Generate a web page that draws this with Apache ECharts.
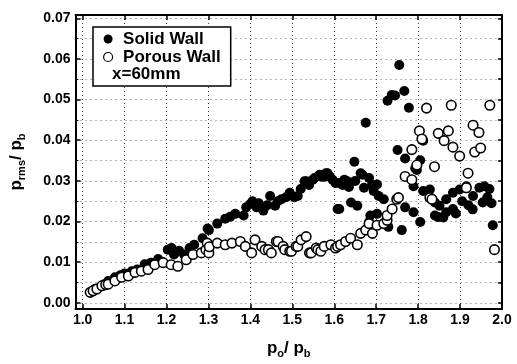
<!DOCTYPE html>
<html><head><meta charset="utf-8">
<script src="https://cdn.jsdelivr.net/npm/echarts@6/dist/echarts.min.js"></script>
<style>html,body{margin:0;padding:0;background:#fff}#c{width:517px;height:364px}</style>
</head><body><div id="c"></div>
<script>
// x = p0/pb, y = prms/pb
const solidX = [1.03,1.05,1.061,1.077,1.09,1.10,1.117,1.13,1.148,1.163,1.18,1.203,1.212,1.218,1.23,1.242,1.255,1.266,1.286,1.298,1.301,1.321,1.34,1.352,1.364,1.384,1.39,1.40,1.405,1.415,1.42,1.431,1.44,1.447,1.459,1.465,1.474,1.485,1.494,1.505,1.513,1.52,1.529,1.533,1.54,1.549,1.553,1.565,1.568,1.575,1.58,1.584,1.59,1.596,1.603,1.608,1.612,1.612,1.62,1.624,1.631,1.635,1.64,1.648,1.65,1.655,1.663,1.667,1.671,1.675,1.683,1.683,1.686,1.69,1.694,1.702,1.702,1.706,1.718,1.727,1.729,1.737,1.745,1.751,1.755,1.761,1.767,1.769,1.769,1.778,1.789,1.789,1.793,1.797,1.805,1.805,1.812,1.812,1.828,1.84,1.84,1.848,1.851,1.86,1.867,1.867,1.883,1.883,1.89,1.899,1.905,1.915,1.92,1.93,1.931,1.946,1.954,1.958,1.965,1.97,1.975,1.978];
const solidY = [0.0035,0.0045,0.0054,0.0063,0.0068,0.0072,0.0078,0.0082,0.0095,0.0099,0.0108,0.0131,0.0135,0.0119,0.0128,0.0119,0.0135,0.0143,0.0159,0.0183,0.0179,0.0195,0.0207,0.0212,0.0219,0.0215,0.0235,0.0243,0.0250,0.0235,0.0245,0.0227,0.0240,0.0263,0.0239,0.0250,0.0255,0.0260,0.0271,0.0260,0.0263,0.0280,0.0299,0.0299,0.0290,0.0303,0.0307,0.0315,0.0311,0.0310,0.0319,0.0319,0.0310,0.0303,0.0295,0.0231,0.0231,0.0295,0.0290,0.0303,0.0299,0.0285,0.0247,0.0347,0.0300,0.0239,0.0319,0.0315,0.0283,0.0443,0.0307,0.0199,0.0215,0.0290,0.0275,0.0219,0.0291,0.0263,0.0255,0.0497,0.0187,0.0511,0.0510,0.0376,0.0585,0.0179,0.0521,0.0355,0.0235,0.0480,0.0287,0.0223,0.0331,0.0327,0.0351,0.0199,0.0399,0.0275,0.0279,0.0247,0.0215,0.0211,0.0239,0.0210,0.0255,0.0223,0.0271,0.0231,0.0220,0.0279,0.0250,0.0287,0.0240,0.0230,0.0263,0.0283,0.0247,0.0287,0.0260,0.0280,0.0245,0.0191];
const porousX = [1.018,1.025,1.034,1.046,1.055,1.061,1.077,1.093,1.109,1.125,1.14,1.156,1.172,1.192,1.211,1.227,1.247,1.263,1.283,1.294,1.297,1.301,1.302,1.321,1.34,1.356,1.376,1.388,1.403,1.411,1.427,1.435,1.443,1.45,1.462,1.466,1.478,1.482,1.494,1.498,1.509,1.513,1.521,1.533,1.541,1.545,1.557,1.561,1.568,1.576,1.592,1.603,1.608,1.615,1.627,1.639,1.655,1.663,1.675,1.683,1.691,1.702,1.718,1.726,1.726,1.738,1.749,1.753,1.769,1.785,1.785,1.797,1.803,1.809,1.82,1.828,1.833,1.839,1.848,1.862,1.872,1.879,1.883,1.899,1.915,1.919,1.931,1.935,1.945,1.949,1.971,1.982];
const porousY = [0.0026,0.0030,0.0034,0.0042,0.0045,0.0046,0.0054,0.0063,0.0066,0.0075,0.0078,0.0082,0.0094,0.0099,0.0094,0.0090,0.0106,0.0119,0.0123,0.0131,0.0147,0.0123,0.0138,0.0147,0.0143,0.0147,0.0151,0.0139,0.0123,0.0155,0.0139,0.0131,0.0131,0.0123,0.0151,0.0151,0.0139,0.0131,0.0127,0.0127,0.0139,0.0139,0.0155,0.0163,0.0123,0.0123,0.0135,0.0131,0.0127,0.0139,0.0143,0.0135,0.0139,0.0143,0.0151,0.0159,0.0143,0.0171,0.0179,0.0195,0.0171,0.0191,0.0195,0.0203,0.0215,0.0231,0.0255,0.0259,0.0311,0.0303,0.0377,0.0339,0.0423,0.0403,0.0479,0.0259,0.0255,0.0335,0.0417,0.0399,0.0423,0.0486,0.0383,0.0361,0.0283,0.0319,0.0437,0.0371,0.0419,0.0381,0.0486,0.0131];
const seriesNames = ['Solid Wall','Porous Wall'];
const noteText = 'x=60mm';
const xRange = [0.983, 2.0];
const yRange = [-0.0015, 0.0708];

const FONT = 'Liberation Sans, Arial, Helvetica, sans-serif';
const chart = echarts.init(document.getElementById('c'), null, {renderer:'canvas'});
const zip = (a,b)=>a.map((v,i)=>[v,b[i]]);
const gridDot = {show:true, lineStyle:{color:'#444', width:1, type:[1,3]}};
const axisLine = {show:true, onZero:false, lineStyle:{color:'#000', width:2}};
chart.setOption({
  animation:false,
  backgroundColor:'#fff',
  grid:{left:72, right:15, top:15, bottom:48},
  xAxis:[{
    type:'value', position:'bottom', min:xRange[0], max:xRange[1], splitNumber:10,
    axisLine:axisLine,
    axisTick:{inside:true, length:5, lineStyle:{color:'#000', width:1.5}},
    axisLabel:{interval:0, showMinLabel:false, margin:4, color:'#000', fontFamily:FONT, fontWeight:'bold', fontSize:14, formatter:v=>v.toFixed(1)},
    splitLine:gridDot,
    name:'{p|p}{s|o}{p|/ p}{s|b}', nameLocation:'middle', nameGap:28,
    nameTextStyle:{rich:{p:{fontFamily:FONT, fontWeight:'bold', fontSize:17, lineHeight:22, verticalAlign:'middle', color:'#000'}, s:{fontFamily:FONT, fontWeight:'bold', fontSize:11, lineHeight:22, verticalAlign:'bottom', color:'#000'}}}
  },{
    type:'value', position:'top', min:xRange[0], max:xRange[1], splitNumber:10,
    axisLine:axisLine,
    axisTick:{inside:true, length:5, lineStyle:{color:'#000', width:1.5}},
    axisLabel:{show:false}, splitLine:{show:false}
  }],
  yAxis:[{
    type:'value', position:'left', min:yRange[0], max:yRange[1], splitNumber:7,
    axisLine:axisLine,
    axisTick:{inside:true, length:5, lineStyle:{color:'#000', width:1.5}},
    minorTick:{show:true, splitNumber:2, length:3, lineStyle:{color:'#000', width:1}},
    axisLabel:{interval:0, showMinLabel:false, showMaxLabel:false, margin:5, color:'#000', fontFamily:FONT, fontWeight:'bold', fontSize:14, formatter:v=>v.toFixed(2)},
    splitLine:{show:false},
    name:'{p|p}{s|rms}{p|/ p}{s|b}', nameLocation:'middle', nameGap:48, nameRotate:90,
    nameTextStyle:{rich:{p:{fontFamily:FONT, fontWeight:'bold', fontSize:17, lineHeight:22, verticalAlign:'middle', color:'#000'}, s:{fontFamily:FONT, fontWeight:'bold', fontSize:11, lineHeight:22, verticalAlign:'bottom', color:'#000'}}}
  },{
    type:'value', position:'right', min:yRange[0], max:yRange[1], splitNumber:14,
    axisLine:axisLine,
    axisTick:{inside:true, length:4, lineStyle:{color:'#000', width:1.5}},
    axisLabel:{show:false},
    splitLine:{show:true, lineStyle:{color:'#666', width:1, type:[1,4]}}
  }],
  legend:{
    left:93, top:27, orient:'vertical', backgroundColor:'#fff',
    borderColor:'#000', borderWidth:1.5, borderRadius:0,
    padding:[3,10,20,10], itemWidth:20, itemHeight:9, itemGap:0,
    textStyle:{fontFamily:FONT, fontWeight:'bold', fontSize:17, lineHeight:18, color:'#000'},
    data:[
      {name:seriesNames[0], icon:'circle', itemStyle:{color:'#000'}},
      {name:seriesNames[1], icon:'circle', itemStyle:{color:'#fff', borderColor:'#000', borderWidth:1.2}}
    ]
  },
  graphic:[{type:'text', left:112, top:66, z:100, style:{text:noteText, font:'bold 17px '+FONT, fill:'#000'}}],
  series:[
    {name:seriesNames[0], type:'scatter', xAxisIndex:0, yAxisIndex:0, symbol:'circle', symbolSize:10,
     itemStyle:{color:'#000', opacity:1}, data:zip(solidX, solidY)},
    {name:seriesNames[1], type:'scatter', xAxisIndex:0, yAxisIndex:0, symbol:'circle', symbolSize:9.5,
     itemStyle:{color:'#fff', borderColor:'#000', borderWidth:1.6, opacity:1}, data:zip(porousX, porousY)}
  ]
});
</script></body></html>
